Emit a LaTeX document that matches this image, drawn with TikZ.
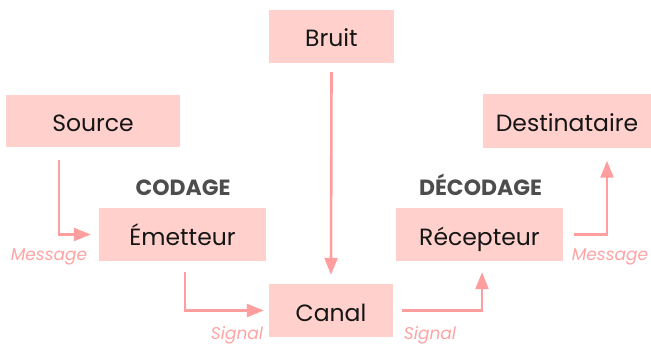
\documentclass[tikz,border=0pt]{standalone}
\usepackage{fontspec}
\setmainfont{Poppins}
\usetikzlibrary{arrows.meta}
\definecolor{boxfill}{HTML}{FFD0CC}
\definecolor{arrcol}{HTML}{FF9E9E}
\definecolor{lblcol}{HTML}{FFA3A3}
\definecolor{hdcol}{HTML}{4D4D4D}
\definecolor{txtcol}{HTML}{151515}
\tikzset{
  box/.style={fill=boxfill, draw=none, inner sep=0pt, text=txtcol,
    text height=21pt, text depth=0pt,
    font=\fontsize{23.5}{28}\selectfont},
  arr/.style={draw=arrcol, line width=2.6pt,
    -{Triangle[length=17pt,width=13pt]}},
  lbl/.style={text=lblcol, font=\fontsize{17}{20}\selectfont\itshape, inner sep=0pt,
    text height=12pt, text depth=0pt},
  hd/.style={text=hdcol, font=\fontsize{22}{26}\selectfont\bfseries, inner sep=0pt,
    text height=15pt, text depth=0pt}
}
\begin{document}
\begin{tikzpicture}[x=1pt,y=-1pt]
\useasboundingbox (0,0) rectangle (651,345);
\node[box, minimum width=174pt, minimum height=52pt] (src) at (93,121) {Source};
\node[box, minimum width=167pt, minimum height=53pt] (emt) at (182.5,234.5) {Émetteur};
\node[box, minimum width=124pt, minimum height=53pt] (can) at (331,310.5) {Canal};
\node[box, minimum width=167pt, minimum height=53pt] (rec) at (479.5,234.5) {Récepteur};
\node[box, minimum width=168pt, minimum height=53pt] (dst) at (567,121) {Destinataire};
\node[box, minimum width=125pt, minimum height=53pt] (bru) at (331.5,36.5) {Bruit};

\node[hd] (cod) at (183,188) {CODAGE};
\node[hd] (dec) at (480.5,188) {DÉCODAGE};

\draw[arr] ([xshift=53pt,yshift=-13pt]src.south west) |- ([xshift=-8pt]emt.west);
\draw[arr] ([xshift=86pt,yshift=-11pt]emt.south west) |- ([xshift=-5pt]can.west);
\draw[arr] ([xshift=9pt]can.east) -| ([xshift=2.5pt,yshift=-11pt]rec.south);
\draw[arr] ([xshift=11pt]rec.east) -| ([xshift=40pt,yshift=-13pt]dst.south);
\draw[arr] ([yshift=-9pt]bru.south) -- ([yshift=9pt]can.north);

\node[lbl] (m1) at (49,254) {Message};
\node[lbl] (s1) at (237,333) {Signal};
\node[lbl] (s2) at (430,333) {Signal};
\node[lbl] (m2) at (610,254) {Message};
\end{tikzpicture}
\end{document}
